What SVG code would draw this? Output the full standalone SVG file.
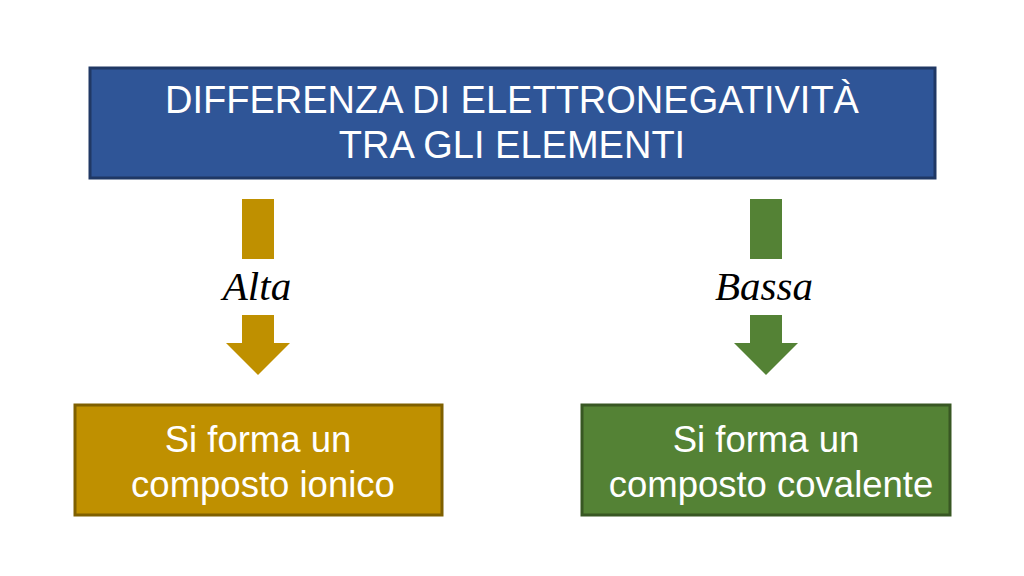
<svg xmlns="http://www.w3.org/2000/svg" width="1024" height="576" viewBox="0 0 1024 576">
<style>
.box-text{font-family:"Liberation Sans",Arial,sans-serif;fill:#ffffff;text-anchor:middle}
.lbl{font-family:"Liberation Serif","Times New Roman",serif;font-style:italic;font-size:41px;fill:#000000;text-anchor:middle}
.gold{fill:#BF9000}
.green{fill:#548235}
</style>
<rect width="1024" height="576" fill="#ffffff"/>
<g id="top">
<rect x="90" y="68" width="845" height="110" fill="#2F5597" stroke="#203864" stroke-width="3"/>
<text class="box-text" font-size="38" x="512" y="113">DIFFERENZA DI ELETTRONEGATIVITÀ</text>
<text class="box-text" font-size="38" x="512" y="158">TRA GLI ELEMENTI</text>
</g>
<g id="connectors">
<g id="conn-left">
<rect class="gold" x="242" y="199" width="32" height="60"/>
<text class="lbl" x="257" y="300">Alta</text>
<polygon class="gold" points="242,315 274,315 274,343 290,343 258,375 226,343 242,343"/>
</g>
<g id="conn-right">
<rect class="green" x="750" y="199" width="32" height="60"/>
<text class="lbl" x="764" y="300">Bassa</text>
<polygon class="green" points="750,315 782,315 782,343 798,343 766,375 734,343 750,343"/>
</g>
</g>
<g id="ionic">
<rect x="75" y="405" width="367" height="110" fill="#BF9000" stroke="#7F6000" stroke-width="3"/>
<text class="box-text" font-size="36.5" x="258" y="452">Si forma un</text>
<text class="box-text" font-size="36.5" x="263" y="497">composto ionico</text>
</g>
<g id="covalent">
<rect x="582" y="405" width="368" height="110" fill="#548235" stroke="#385723" stroke-width="3"/>
<text class="box-text" font-size="36.5" x="766" y="452">Si forma un</text>
<text class="box-text" font-size="36.5" x="771" y="497">composto covalente</text>
</g>
</svg>
